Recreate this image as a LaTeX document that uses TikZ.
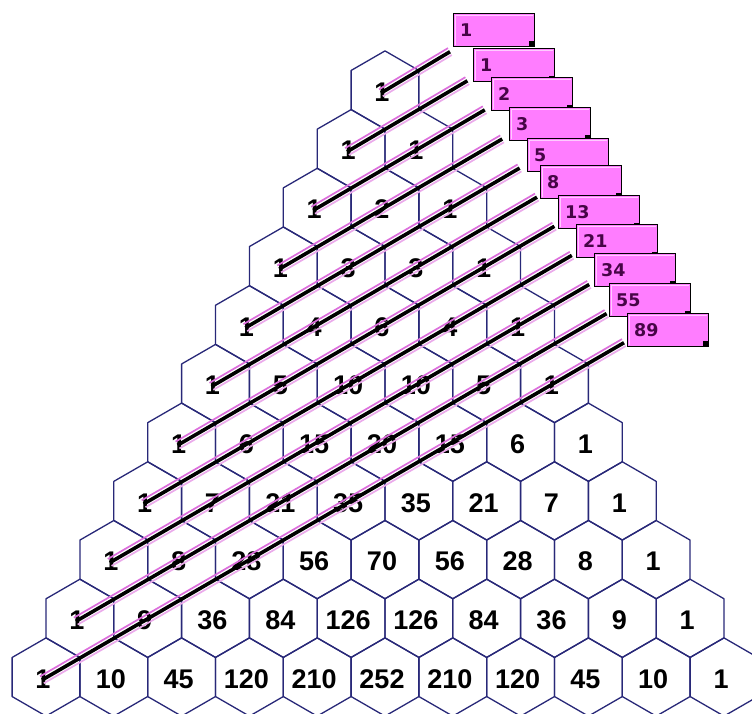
\documentclass[tikz,border=0pt]{standalone}
\usepackage{fontspec}
\setmainfont{Liberation Sans}
\newfontfamily\boxfont{DejaVu Sans}
\usepackage{tikz}

\definecolor{hexblue}{RGB}{40,40,120}
\definecolor{fibpink}{RGB}{255,125,255}
\definecolor{fibtext}{RGB}{70,5,70}
\definecolor{glowup}{RGB}{220,110,220}
\definecolor{glowdown}{RGB}{235,170,235}

\newcommand{\sumfont}{\boxfont\bfseries\fontsize{17.5}{18}\selectfont}

\tikzset{
  hexedge/.style={draw=hexblue, line width=1.3pt, line join=round},
  num/.style={font=\fontsize{27}{27}\selectfont\bfseries, inner sep=0pt},
  diagline/.style={draw=black, line width=3.6pt},
  diagglow/.style={line width=1.7pt},
  fibbox/.style={draw=black, line width=1.4pt, fill=fibpink, anchor=north west,
    minimum width=81pt, minimum height=33pt, inner sep=0pt, text=fibtext},
}

\begin{document}
\begin{tikzpicture}[x=1pt,y=-1pt]
  \fill[white] (0,0) rectangle (752,713);
  \useasboundingbox (0,0) rectangle (752,713);
  \clip (0,0) rectangle (752,713);

  % the triangle of hexagons
  \foreach \row [count=\n from 0] in {{1},{1,1},{1,2,1},{1,3,3,1},{1,4,6,4,1},
      {1,5,10,10,5,1},{1,6,15,20,15,6,1},{1,7,21,35,35,21,7,1},
      {1,8,28,56,70,56,28,8,1},{1,9,36,84,126,126,84,36,9,1},
      {1,10,45,120,210,252,210,120,45,10,1}} {
    \foreach \v [count=\k from 0] in \row {
      \node[num] (h\n-\k) at ({382+(\k-\n/2)*67.8}, {92+58.7*\n}) {\v};
      \draw[hexedge] ([shift={(3pt,2pt)}]h\n-\k.center)
        +(30:39.1) -- +(90:39.1) -- +(150:39.1) -- +(210:39.1)
        -- +(270:39.1) -- +(330:39.1) -- cycle;
    }
  }

  % shallow diagonals
  \foreach \n in {0,...,10} {
    \coordinate (e\n) at ({450+17.4*\n}, {51.7+29.1*\n});
    \draw[diagglow, glowup, transform canvas={shift={(-2,-3.6)}}]
      ([shift={(-1pt,-1pt)}]h\n-0.center) -- (e\n);
    \draw[diagglow, glowdown, transform canvas={shift={(1.8,3.3)}}]
      ([shift={(-1pt,-1pt)}]h\n-0.center) -- (e\n);
    \draw[diagline] ([shift={(-1pt,-1pt)}]h\n-0.center) -- (e\n);
  }

  % sums
  \foreach \s/\bx/\by [count=\n from 0] in {1/453/13,1/473/48,2/491/77,
      3/509/107,5/527/138,8/540/165,13/558/195,21/576/224,34/594/253,
      55/609/283,89/627/313} {
    \node[fibbox] (b\n) at (\bx,\by) {};
    \node[anchor=west, inner sep=0pt, text=fibtext, font=\sumfont]
      at ([xshift=7pt]b\n.west) {\s};
    \draw[white!60!fibpink, line width=1pt]
      ([shift={(2pt,2pt)}]b\n.south west) |- ([shift={(-2pt,-2pt)}]b\n.north east);
    \fill[black] (b\n.south east) rectangle ++(-6.5,-6.5);
  }
\end{tikzpicture}
\end{document}
